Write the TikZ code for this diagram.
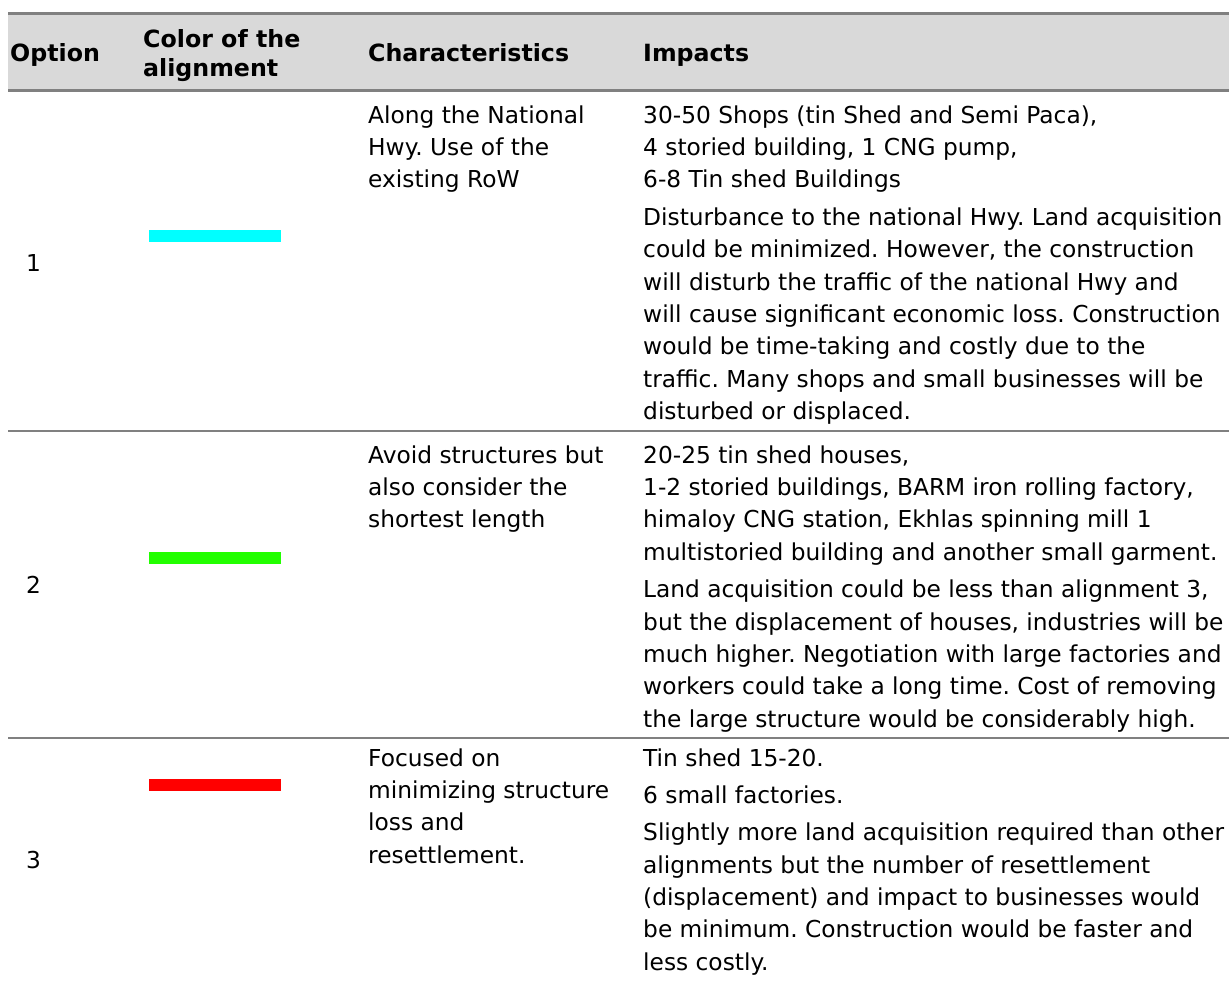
\documentclass[tikz,border=0pt]{standalone}
\usepackage{fontspec}
\setmainfont{DejaVu Sans}
\frenchspacing
\definecolor{rulegray}{HTML}{808080}
\definecolor{headgray}{HTML}{D9D9D9}
\definecolor{alncyan}{HTML}{00FFFF}
\definecolor{alngreen}{HTML}{22FF00}
\definecolor{alnred}{HTML}{FF0000}

\begin{document}
\begin{tikzpicture}[
  x=1pt, y=-1pt,
  every node/.style={font=\fontsize{23.3}{32.3}\selectfont, inner sep=0pt},
  head/.style={anchor=north west, align=left, font=\fontsize{23.7}{29}\selectfont\bfseries},
  cell/.style={anchor=north west, align=left},
  num/.style={anchor=west},
  bar/.style={anchor=north west, minimum width=132pt, minimum height=12pt},
  rule/.style={draw=rulegray, line width=2pt}
]
\useasboundingbox (0,0) rectangle (1229,981);

% header band and rules
\fill[headgray] (8,15) rectangle (1229,89.5);
\draw[rule, line width=3pt] (8,13.5) -- (1229,13.5);
\draw[rule, line width=2.5pt] (8,90.5) -- (1229,90.5);
\draw[rule] (8,431) -- (1229,431);
\draw[rule] (8,738) -- (1229,738);

% header
\node[head] (hOpt) at (10,40.7) {\strut Option};
\node[head] (hCol) at (143,27) {\strut Color of the\\alignment};
\node[head] (hChar) at (368,40.7) {\strut Characteristics};
\node[head] (hImp) at (643,40.7) {\strut Impacts};

% option 1
\node[num] (opt1) at (26,263) {1};
\node[bar, fill=alncyan] (col1) at (149,230) {};
\node[cell] (char1) at (368,100.4) {\strut Along the National\\Hwy. Use of the\\existing RoW};
\node[cell] (imp1) at (643,100.4) {\strut 30-50 Shops (tin Shed and Semi Paca),\\
  4 storied building, 1 CNG pump,\\
  6-8 Tin shed Buildings\\[5.5pt]
  Disturbance to the national Hwy. Land acquisition\\
  could be minimized. However, the construction\\
  will disturb the traffic of the national Hwy and\\
  will cause significant economic loss. Construction\\
  would be time-taking and costly due to the\\
  traffic. Many shops and small businesses will be\\
  disturbed or displaced.};

% option 2
\node[num] (opt2) at (26,585) {2};
\node[bar, fill=alngreen] (col2) at (149,552) {};
\node[cell] (char2) at (368,440.4) {\strut Avoid structures but\\also consider the\\shortest length};
\node[cell] (imp2) at (643,440.4) {\strut 20-25 tin shed houses,\\
  1-2 storied buildings, BARM iron rolling factory,\\
  himaloy CNG station, Ekhlas spinning mill 1\\
  multistoried building and another small garment.\\[5.5pt]
  Land acquisition could be less than alignment 3,\\
  but the displacement of houses, industries will be\\
  much higher. Negotiation with large factories and\\
  workers could take a long time. Cost of removing\\
  the large structure would be considerably high.};

% option 3
\node[num] (opt3) at (26,860) {3};
\node[bar, fill=alnred] (col3) at (149,779) {};
\node[cell] (char3) at (368,743.4) {\strut Focused on\\minimizing structure\\loss and\\resettlement.};
\node[cell] (imp3) at (643,743.4) {\strut Tin shed 15-20.\\[5pt]
  6 small factories.\\[5pt]
  Slightly more land acquisition required than other\\
  alignments but the number of resettlement\\
  (displacement) and impact to businesses would\\
  be minimum. Construction would be faster and\\
  less costly.};

\end{tikzpicture}
\end{document}
